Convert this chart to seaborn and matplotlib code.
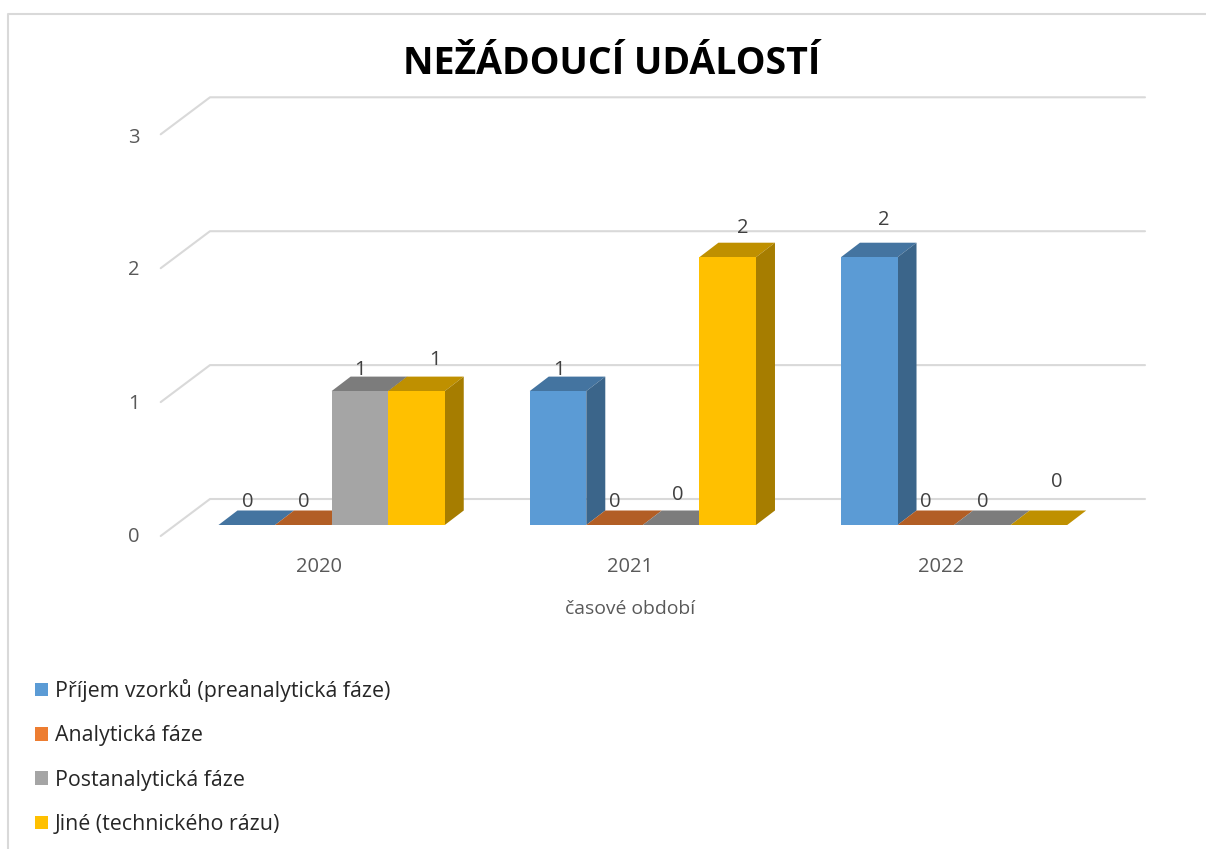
import matplotlib
matplotlib.use("Agg")
import matplotlib.pyplot as plt
import matplotlib.transforms as mtrans
from matplotlib.lines import Line2D
from matplotlib.patches import Patch, Polygon
from matplotlib.colors import to_rgb
import pandas as pd
import seaborn as sns

years = ["2020", "2021", "2022"]
series_names = ["Příjem vzorků (preanalytická fáze)", "Analytická fáze",
                "Postanalytická fáze", "Jiné (technického rázu)"]
prijem = [0, 1, 2]
analyticka = [0, 0, 0]
postanalyticka = [1, 0, 0]
jine = [1, 2, 0]
colors = ["#5B9BD5", "#ED7D31", "#A5A5A5", "#FFC000"]
y_ticks = [0, 1, 2, 3]
title = "NEŽÁDOUCÍ UDÁLOSTÍ"
x_title = "časové období"

# label offsets in pixels, per series then per year
label_dx = [[1, 1, 15], [0, 0, 0], [0, 7, 0], [19, 15, 18]]
label_dy = [[24, 23, 39], [24, 24, 24], [23, 31, 24], [33, 31, 44]]

W, H = 1206, 849
FONT = "Open Sans"
sns.set_theme(style="white")
plt.rcParams["font.family"] = [FONT, "DejaVu Sans"]

df = pd.DataFrame({
    "rok": years * 4,
    "faze": [n for n in series_names for _ in years],
    "pocet": prijem + analyticka + postanalyticka + jine,
})

fig = plt.figure(figsize=(W / 100, H / 100), dpi=100, facecolor="white")
left, right, bottom, top = 176.0, 1109.7, 525.0, 123.3
ax = fig.add_axes([left / W, 1 - bottom / H, (right - left) / W, (bottom - top) / H])
ax.patch.set_alpha(0)

sns.barplot(data=df, x="rok", y="pocet", hue="faze", order=years, hue_order=series_names,
            palette=colors, width=0.727, gap=0, saturation=1, errorbar=None, legend=False,
            ax=ax, zorder=3, linewidth=0)
ax.set_xlim(-0.5, 2.5)
ax.set_ylim(0, 3)
sns.despine(ax=ax, left=True, bottom=True)
ax.grid(False)

# Perspective gridlines
px = mtrans.IdentityTransform()
for v in y_ticks:
    yp = ax.transData.transform((0, v))[1]
    ax.add_line(Line2D([160.7, 210, 1145], [yp - 11.0, yp + 26.0, yp + 26.0], transform=px,
                       color="#D9D9D9", lw=1.5, zorder=1, clip_on=False))

# Depth faces built from the bars that seaborn drew
DX, DY = 19.0, 14.5
n_years = len(years)
bars = [p for p in ax.patches]
for i, bar in enumerate(bars):
    s, c = i // n_years, i % n_years
    (x0, y0), (x1, y1) = ax.transData.transform(
        [(bar.get_x(), 0), (bar.get_x() + bar.get_width(), bar.get_height())])
    rgb = to_rgb(colors[s])
    ax.add_patch(Polygon([(x0, y1), (x1, y1), (x1 + DX, y1 + DY), (x0 + DX, y1 + DY)], transform=px,
                         facecolor=[k * 0.75 for k in rgb], edgecolor="none", zorder=2, clip_on=False))
    if bar.get_height() > 0:
        ax.add_patch(Polygon([(x1, y0), (x1 + DX, y0 + DY), (x1 + DX, y1 + DY), (x1, y1)], transform=px,
                             facecolor=[k * 0.65 for k in rgb], edgecolor="none", zorder=2, clip_on=False))
    ax.annotate(f"{bar.get_height():.0f}", (bar.get_x() + bar.get_width() / 2, bar.get_height()),
                xytext=(label_dx[s][c] * 0.72, (label_dy[s][c] - 1.5) * 0.72), textcoords="offset points",
                ha="center", va="center", fontsize=14.5, color="#404040", zorder=5, annotation_clip=False)

# Axis texts
ax.set_yticks(y_ticks)
ax.set_yticklabels([str(v) for v in y_ticks])
ax.set_xlabel("")
ax.set_ylabel("")
ax.tick_params(axis="both", length=0, labelsize=14.5, labelcolor="#595959")
ax.tick_params(axis="y", pad=26)
ax.tick_params(axis="x", pad=23)
for t in ax.get_xticklabels():
    t.set_transform(t.get_transform() + mtrans.Affine2D().translate(-13, 0))
for t, off in zip(ax.get_yticklabels(), [-10, -10, -10, -12]):
    t.set_transform(t.get_transform() + mtrans.Affine2D().translate(0, off))

fig.text(630 / W, 1 - 609 / H, x_title, ha="center", va="center", fontsize=13.9, color="#595959")
fig.text(612 / W, 1 - 64 / H, title, ha="center", va="center", fontsize=27, fontweight="bold",
         color="black")

handles = [Patch(facecolor=c, edgecolor="none", label=n) for c, n in zip(colors, series_names)]
fs = 15.4
fig.legend(handles=handles, loc="upper left", bbox_to_anchor=(35 / W, 1 - 679 / H),
           frameon=False, fontsize=fs, borderpad=0, borderaxespad=0,
           handlelength=13 * 0.72 / fs, handleheight=13 * 0.72 / fs,
           handletextpad=7 * 0.72 / fs, labelspacing=1.09, labelcolor="#262626")

# Chart frame
fig.add_artist(Line2D([8 / W, 8 / W, 1], [0, 1 - 14 / H, 1 - 14 / H], transform=fig.transFigure,
                      color="#D9D9D9", lw=1.5))

fig.savefig("out.png", dpi=100)
